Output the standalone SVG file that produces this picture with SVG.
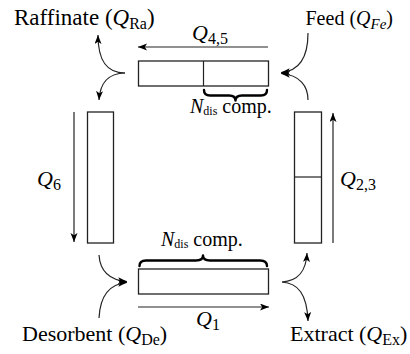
<svg xmlns="http://www.w3.org/2000/svg" width="410" height="354" viewBox="0 0 410 354">
<style>
.col{fill:#fff;stroke:#222;stroke-width:1.3}
.ln{fill:none;stroke:#222;stroke-width:1.2}
.br{fill:none;stroke:#000;stroke-width:2.4;stroke-linejoin:round;stroke-linecap:round}
.it{font-style:italic}
</style>
<defs>
<marker id="ah" markerUnits="userSpaceOnUse" markerWidth="10" markerHeight="8" refX="9" refY="3.5" orient="auto">
<path d="M0,0 L9,3.5 L0,7 L2.2,3.5 z" fill="#000"/>
</marker>
</defs>
<rect width="410" height="354" fill="#fff"/>
<g id="connectors">
<path class="ln" d="M268,47 L138,47" marker-end="url(#ah)"/>
<path class="ln" d="M74,112 L74,242" marker-end="url(#ah)"/>
<path class="ln" d="M333,243 L333,113" marker-end="url(#ah)"/>
<path class="ln" d="M138,307 L269,307" marker-end="url(#ah)"/>
<path class="ln" d="M125,73 C106,73 98,60 98,35" marker-end="url(#ah)"/>
<path class="ln" d="M125,73 C108,73 100,84 99,100" marker-end="url(#ah)"/>
<path class="ln" d="M308,33 C308,57 300,71 281,72.5" marker-end="url(#ah)"/>
<path class="ln" d="M308,100 C308,86 300,75 281,73.5" marker-end="url(#ah)"/>
<path class="ln" d="M99,255 C100,270 108,280 127,281.5" marker-end="url(#ah)"/>
<path class="ln" d="M99,318 C100,298 108,284 127,282.5" marker-end="url(#ah)"/>
<path class="ln" d="M282,282 C298,281 306,272 307,253" marker-end="url(#ah)"/>
<path class="ln" d="M282,282 C298,283 307,294 308,321" marker-end="url(#ah)"/>
</g>
<g font-family="Liberation Serif, serif" fill="#000">
<g id="top-block">
<rect class="col" x="138.5" y="61" width="130" height="25"/>
<line class="ln" x1="203.5" y1="61" x2="203.5" y2="86"/>
<path class="br" d="M204,90 Q204,95.5 210,95.5 L229,95.5 Q235.5,95.5 235.5,100.5 Q235.5,95.5 242,95.5 L261,95.5 Q267,95.5 267,90"/>
<text font-size="20" x="190" y="113"><tspan class="it">N</tspan><tspan font-size="12" dy="2">dis</tspan><tspan dy="-2"> comp.</tspan></text>
</g>
<g id="left-column">
<rect class="col" x="87.5" y="112" width="26" height="131"/>
</g>
<g id="right-column">
<rect class="col" x="294.5" y="112" width="27" height="131"/>
<line class="ln" x1="294.5" y1="177" x2="321.5" y2="177"/>
</g>
<g id="bottom-block">
<rect class="col" x="138.5" y="269" width="130" height="25"/>
<path class="br" d="M139.5,266 Q139.5,260.5 146,260.5 L196,260.5 Q203,260.5 203,255.5 Q203,260.5 210,260.5 L260,260.5 Q267,260.5 267,266"/>
<text font-size="20" x="161" y="246"><tspan class="it">N</tspan><tspan font-size="12" dy="2">dis</tspan><tspan dy="-2"> comp.</tspan></text>
</g>
<g id="labels" font-size="22">
<text x="14" y="25" font-size="23">Raffinate (<tspan class="it">Q</tspan><tspan font-size="16" dy="4">Ra</tspan><tspan dy="-4">)</tspan></text>
<text x="393" y="25" font-size="20" text-anchor="end">Feed (<tspan class="it">Q</tspan><tspan class="it" font-size="15" dy="4">Fe</tspan><tspan dy="-4">)</tspan></text>
<text x="22" y="341">Desorbent (<tspan class="it">Q</tspan><tspan font-size="16" dy="4">De</tspan><tspan dy="-4">)</tspan></text>
<text x="290" y="341">Extract (<tspan class="it">Q</tspan><tspan font-size="16" dy="4">Ex</tspan><tspan dy="-4">)</tspan></text>
<text x="192" y="40"><tspan class="it">Q</tspan><tspan font-size="16" dy="4">4,5</tspan></text>
<text x="37" y="186"><tspan class="it">Q</tspan><tspan font-size="16" dy="4">6</tspan></text>
<text x="340" y="186"><tspan class="it">Q</tspan><tspan font-size="16" dy="4">2,3</tspan></text>
<text x="196" y="326"><tspan class="it">Q</tspan><tspan font-size="16" dy="4">1</tspan></text>
</g>
</g>
</svg>
